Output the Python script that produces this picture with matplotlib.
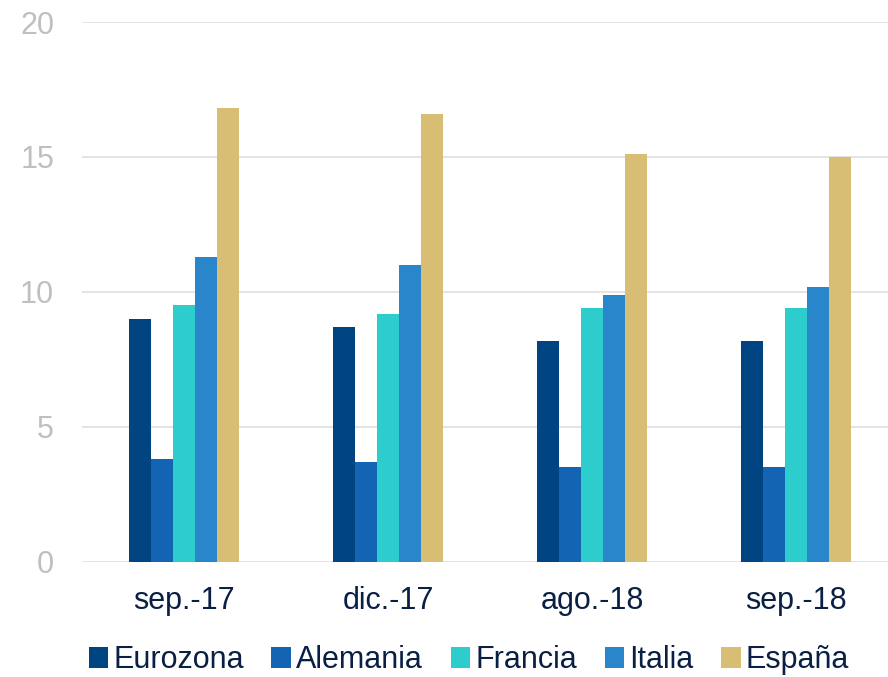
import matplotlib
matplotlib.use("Agg")
import matplotlib.pyplot as plt
import numpy as np

categories = ["sep.-17", "dic.-17", "ago.-18", "sep.-18"]
series_names = ["Eurozona", "Alemania", "Francia", "Italia", "España"]
eurozona = [9.0, 8.7, 8.2, 8.2]
alemania = [3.8, 3.7, 3.5, 3.5]
francia = [9.5, 9.2, 9.4, 9.4]
italia = [11.3, 11.0, 9.9, 10.2]
espana = [16.8, 16.6, 15.1, 15.0]
colors = ["#004481", "#1464B4", "#2DCCCD", "#2A86CA", "#D8BE75"]
yticks = [0, 5, 10, 15, 20]

plt.rcParams['font.family'] = ['Liberation Sans', 'DejaVu Sans']

fig = plt.figure(figsize=(8.88, 6.77), dpi=100)
ax = fig.add_axes([0.0923, 0.170, 0.9077, 0.7975])

data = [eurozona, alemania, francia, italia, espana]
x = np.arange(len(categories))
w = 0.108
for i, (vals, name, c) in enumerate(zip(data, series_names, colors)):
    ax.bar(x + (i - 2) * w, vals, w, color=c, label=name, zorder=3)

ax.set_ylim(0, 20)
ax.set_xlim(-0.5, 3.45)
ax.set_yticks(yticks)
ax.set_yticklabels([str(t) for t in yticks])
ax.set_xticks(x)
ax.set_xticklabels(categories)
ax.grid(axis='y', color='#E2E2E2', linewidth=1.3, zorder=0)
for s in ax.spines.values():
    s.set_visible(False)
ax.tick_params(axis='y', length=0, pad=20, labelsize=22, labelcolor='#BFBFBF')
ax.tick_params(axis='x', length=0, pad=17, labelsize=22, labelcolor='#0A1F44')

leg = fig.legend(loc='center', bbox_to_anchor=(0.528, 0.025), ncol=5, frameon=False,
                 fontsize=22, handlelength=0.65, handleheight=0.65, handletextpad=0.16,
                 columnspacing=0.9, labelcolor='#0A1F44', borderaxespad=0, borderpad=0)

fig.savefig("out.png", dpi=100)
